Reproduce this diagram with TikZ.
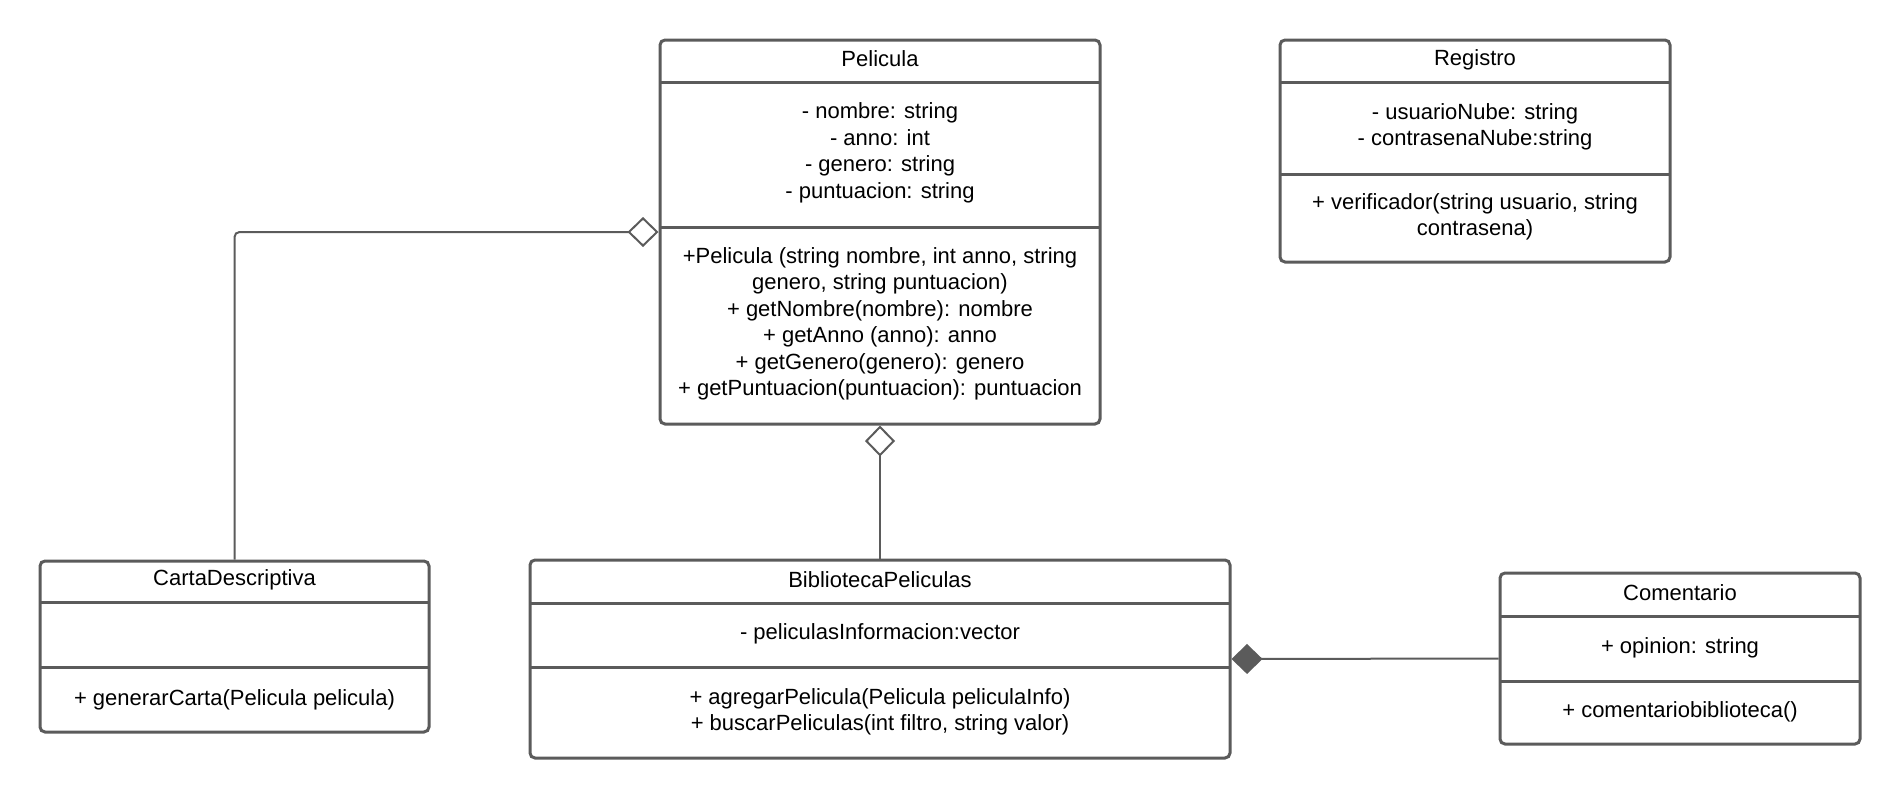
\documentclass[tikz,border=0pt]{standalone}
\usepackage{fontspec}
\setmainfont{Liberation Sans}
\usetikzlibrary{arrows.meta}
\definecolor{umlgray}{HTML}{5B5B5B}
\def\umlfont{\fontsize{22}{26.5}\selectfont}
\tikzset{
  classbox/.style={draw=umlgray, line width=3pt, rounded corners=5pt, inner sep=0pt, fill=white},
  divider/.style={draw=umlgray, line width=3pt},
  member/.style={align=center, inner sep=0pt, font=\umlfont},
  assoc/.style={draw=umlgray, line width=2pt, rounded corners=5pt},
  aggr/.style={assoc, -{Diamond[open, fill=white, length=31pt, width=30pt]}},
  compo/.style={assoc, -{Diamond[fill=umlgray, length=31pt, width=30pt]}}
}

\begin{document}
\begin{tikzpicture}[x=1pt,y=-1pt]
\useasboundingbox (0,0) rectangle (1900,798);
% Pelicula
\node[classbox, minimum width=440pt, minimum height=384pt] (pelicula) at (880,232) {};
\draw[divider] (660,82) -- (1100,82);
\draw[divider] (660,227) -- (1100,227);
\node[member] (peliculaName) at (880,58.5) {Pelicula};
\node[member] (peliculaAttr) at (880,153) {- nombre: string\\- anno: int\\- genero: string\\- puntuacion: string};
\node[member] (peliculaOps) at (880,324) {+Pelicula (string nombre, int anno, string\\genero, string puntuacion)\\+ getNombre(nombre): nombre\\+ getAnno (anno): anno\\+ getGenero(genero): genero\\+ getPuntuacion(puntuacion): puntuacion};
% Registro
\node[classbox, minimum width=390pt, minimum height=222pt] (registro) at (1475,151) {};
\draw[divider] (1280,82) -- (1670,82);
\draw[divider] (1280,174) -- (1670,174);
\node[member] (registroName) at (1475,60) {Registro};
\node[member] (registroAttr) at (1475,127) {- usuarioNube: string\\- contrasenaNube:string};
\node[member] (registroOps) at (1475,217) {+ verificador(string usuario, string\\contrasena)};
% CartaDescriptiva
\node[classbox, minimum width=389pt, minimum height=171pt] (carta) at (234.5,646.5) {};
\draw[divider] (40,602) -- (429,602);
\draw[divider] (40,667) -- (429,667);
\node[member] (cartaName) at (234.5,580) {CartaDescriptiva};
\node[member] (cartaOps) at (234.5,699.5) {+ generarCarta(Pelicula pelicula)};
% BibliotecaPeliculas
\node[classbox, minimum width=700pt, minimum height=198pt] (biblioteca) at (880,659) {};
\draw[divider] (530,603) -- (1230,603);
\draw[divider] (530,667) -- (1230,667);
\node[member] (bibliotecaName) at (880,579.5) {BibliotecaPeliculas};
\node[member] (bibliotecaAttr) at (880,634) {- peliculasInformacion:vector};
\node[member] (bibliotecaOps) at (880,712) {+ agregarPelicula(Pelicula peliculaInfo)\\+ buscarPeliculas(int filtro, string valor)};
% Comentario
\node[classbox, minimum width=360pt, minimum height=171pt] (comentario) at (1680,658.5) {};
\draw[divider] (1500,616) -- (1860,616);
\draw[divider] (1500,681) -- (1860,681);
\node[member] (comentarioName) at (1680,592.5) {Comentario};
\node[member] (comentarioAttr) at (1680,647.5) {+ opinion: string};
\node[member] (comentarioOps) at (1680,711.5) {+ comentariobiblioteca()};
% relations
\draw[aggr] (carta.north) |- (pelicula.west);
\draw[aggr] (biblioteca.north) -- (pelicula.south);
\draw[compo] (comentario.west) -- (biblioteca.east);
\end{tikzpicture}
\end{document}
